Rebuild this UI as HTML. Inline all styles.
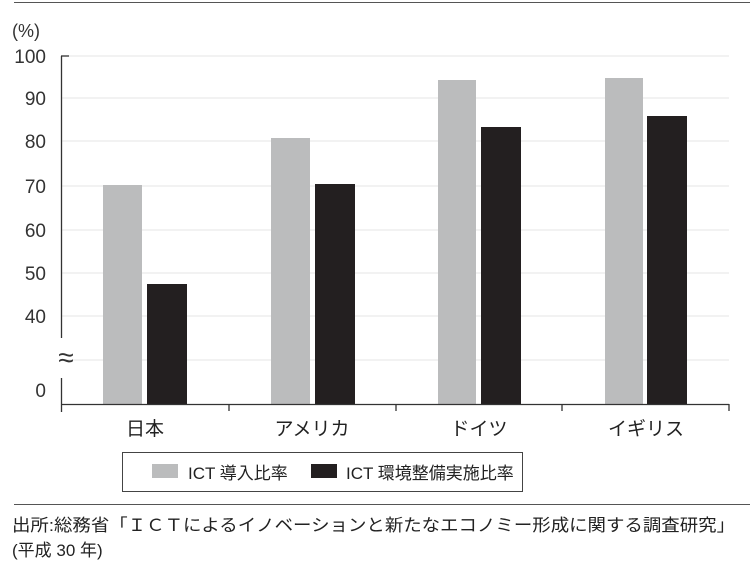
<!DOCTYPE html><html><head><meta charset="utf-8"><style>
body{margin:0;background:#fff;width:750px;height:564px;overflow:hidden;font-family:"Liberation Sans","Noto Sans CJK JP",sans-serif;}
</style></head><body>
<svg width="750" height="564" xmlns="http://www.w3.org/2000/svg" font-family="Liberation Sans, Noto Sans CJK JP, sans-serif">
<line x1="14" y1="2.5" x2="750" y2="2.5" stroke="#555" stroke-width="1"/>
<g stroke="#e6e6e6" stroke-width="1">
<line x1="62" y1="56" x2="729" y2="56"/><line x1="62" y1="98" x2="729" y2="98"/>
<line x1="62" y1="141" x2="729" y2="141"/><line x1="62" y1="186" x2="729" y2="186"/>
<line x1="62" y1="230" x2="729" y2="230"/><line x1="62" y1="273" x2="729" y2="273"/>
<line x1="62" y1="316" x2="729" y2="316"/><line x1="62" y1="360" x2="729" y2="360"/>
</g>
<g fill="#bbbcbd"><rect x="103" y="185" width="39" height="219"/><rect x="271" y="138" width="39" height="266"/><rect x="438" y="80" width="38" height="324"/><rect x="605" y="78" width="38" height="326"/></g>
<g fill="#231f20"><rect x="147" y="284" width="40" height="120"/><rect x="315" y="184" width="40" height="220"/><rect x="481" y="127" width="40" height="277"/><rect x="647" y="116" width="40" height="288"/></g>
<g stroke="#333" stroke-width="1.3">
<line x1="61.5" y1="56" x2="61.5" y2="338"/><line x1="61.5" y1="378" x2="61.5" y2="412"/>
<line x1="61" y1="56" x2="69" y2="56"/>
<line x1="61" y1="404.5" x2="729" y2="404.5"/>
<line x1="229" y1="404" x2="229" y2="411"/><line x1="396" y1="404" x2="396" y2="411"/><line x1="562" y1="404" x2="562" y2="411"/><line x1="729" y1="404" x2="729" y2="411"/>
</g>
<g font-size="19" fill="#333" text-anchor="end">
<text x="46" y="63">100</text><text x="46" y="105">90</text><text x="46" y="148">80</text><text x="46" y="193">70</text><text x="46" y="237">60</text><text x="46" y="280">50</text><text x="46" y="323">40</text><text x="46" y="397">0</text>
</g>
<text x="66" y="367" font-size="28" fill="#333" text-anchor="middle">≈</text>
<text x="12" y="37" font-size="18" fill="#333">(%)</text>
<g font-size="19" fill="#222" text-anchor="middle">
<text x="145" y="435">日本</text><text x="312" y="435">アメリカ</text><text x="479" y="435">ドイツ</text><text x="646" y="435">イギリス</text>
</g>
<rect x="122.5" y="452.5" width="400" height="39" fill="none" stroke="#444" stroke-width="1"/>
<rect x="152" y="464" width="26" height="14" fill="#bbbcbd"/>
<rect x="311" y="464" width="26" height="14" fill="#231f20"/>
<text x="188" y="479" font-size="17" fill="#222">ICT 導入比率</text>
<text x="346" y="479" font-size="17" fill="#222">ICT 環境整備実施比率</text>
<line x1="14" y1="504.5" x2="750" y2="504.5" stroke="#555" stroke-width="1"/>
<text x="12" y="531" font-size="17" fill="#222" textLength="723" lengthAdjust="spacingAndGlyphs">出所:総務省「ＩＣＴによるイノベーションと新たなエコノミー形成に関する調査研究」</text>
<text x="12" y="556" font-size="17" fill="#222">(平成 30 年)</text>
</svg>
</body></html>
